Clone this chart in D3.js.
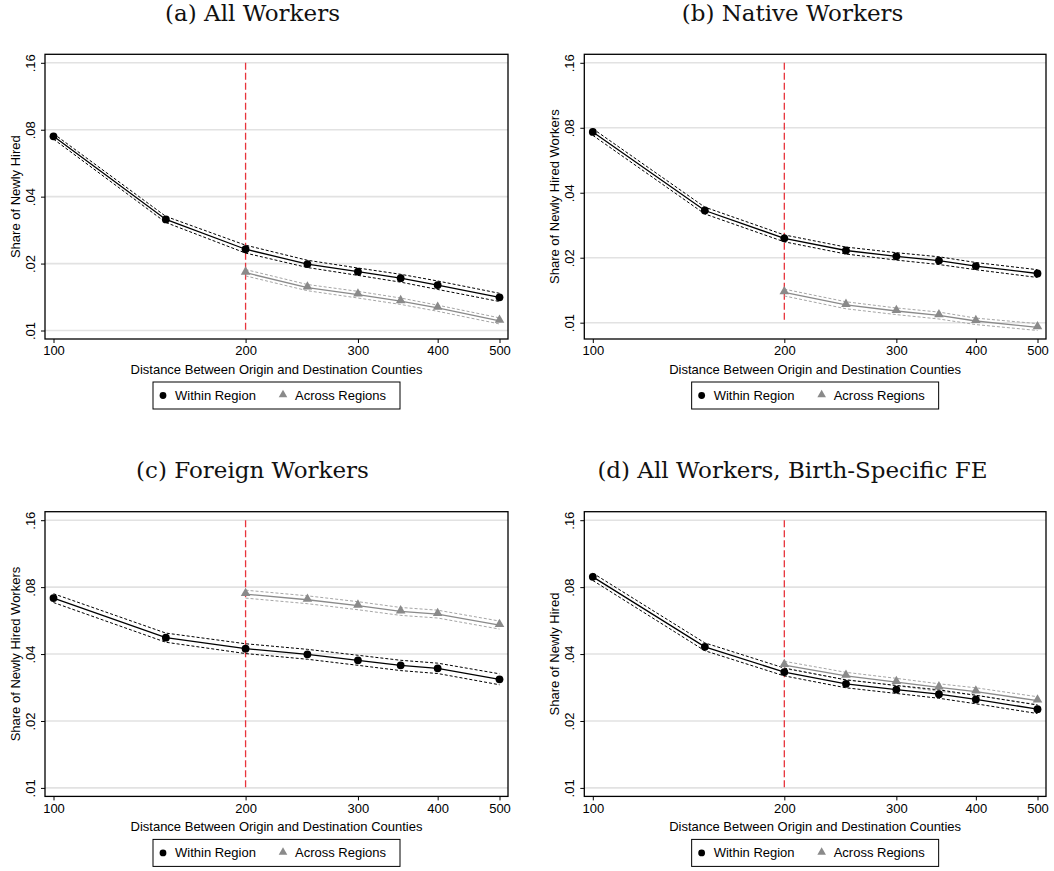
<!DOCTYPE html>
<html>
<head>
<meta charset="utf-8">
<script src="https://cdn.jsdelivr.net/npm/d3@7"></script>
<style>
  html, body { margin: 0; padding: 0; background: #fff; }
  svg { display: block; }
</style>
</head>
<body>
<svg id="chart" width="1054" height="871"></svg>
<script>
// ---------- data ----------
const distWithin = [100, 150, 200, 250, 300, 350, 400, 500];
const distAcross = [200, 250, 300, 350, 400, 500];
const xTicks = [100, 200, 300, 400, 500];
const yTicks = [0.01, 0.02, 0.04, 0.08, 0.16];
const yTickLabels = [".01", ".02", ".04", ".08", ".16"];
const cutoff = 200;

const panelTitles = ["(a) All Workers", "(b) Native Workers", "(c) Foreign Workers", "(d) All Workers, Birth-Specific FE"];
const yTitles = ["Share of Newly Hired", "Share of Newly Hired Workers", "Share of Newly Hired Workers", "Share of Newly Hired"];
const xTitle = "Distance Between Origin and Destination Counties";
const legendLabels = ["Within Region", "Across Regions"];

// (a) All workers
const aWithin   = [0.0747, 0.0316, 0.0232, 0.0199, 0.0184, 0.0172, 0.0160, 0.0141];
const aWithinLo = [0.0726, 0.0306, 0.0223, 0.0192, 0.0177, 0.0165, 0.0153, 0.0135];
const aWithinHi = [0.0768, 0.0326, 0.0242, 0.0207, 0.0191, 0.0179, 0.0167, 0.0147];
const aAcross   = [0.0182, 0.0156, 0.0145, 0.01355, 0.01264, 0.01105];
const aAcrossLo = [0.0176, 0.0151, 0.0140, 0.0131, 0.0122, 0.0107];
const aAcrossHi = [0.0188, 0.0161, 0.0150, 0.0140, 0.0130, 0.0114];
// (b) Native workers
const bWithin   = [0.0765, 0.0331, 0.0246, 0.0216, 0.0203, 0.0194, 0.0183, 0.0169];
const bWithinLo = [0.0738, 0.0319, 0.0237, 0.0208, 0.0195, 0.0186, 0.0176, 0.0162];
const bWithinHi = [0.0792, 0.0343, 0.0255, 0.0224, 0.0211, 0.0202, 0.0190, 0.0176];
const bAcross   = [0.01383, 0.01208, 0.01133, 0.01081, 0.01018, 0.00951];
const bAcrossLo = [0.0133, 0.0116, 0.0109, 0.0104, 0.0098, 0.0092];
const bAcrossHi = [0.0143, 0.0125, 0.0117, 0.0112, 0.0105, 0.0099];
// (c) Foreign workers
const cWithin   = [0.0714, 0.0474, 0.0423, 0.0399, 0.0375, 0.0356, 0.0345, 0.0308];
const cWithinLo = [0.0682, 0.0452, 0.0402, 0.0379, 0.0356, 0.0337, 0.0327, 0.0291];
const cWithinHi = [0.0747, 0.0497, 0.0445, 0.0420, 0.0395, 0.0375, 0.0364, 0.0326];
const cAcross   = [0.0744, 0.0702, 0.0660, 0.0622, 0.0605, 0.0540];
const cAcrossLo = [0.0714, 0.0674, 0.0633, 0.0597, 0.0581, 0.0518];
const cAcrossHi = [0.0775, 0.0731, 0.0688, 0.0648, 0.0630, 0.0563];
// (d) All workers, birth-specific FE
const dWithin   = [0.0890, 0.0431, 0.0332, 0.0294, 0.0277, 0.0264, 0.0250, 0.0226];
const dWithinLo = [0.0857, 0.0414, 0.0319, 0.0282, 0.0266, 0.0253, 0.0239, 0.0216];
const dWithinHi = [0.0925, 0.0449, 0.0346, 0.0306, 0.0289, 0.0276, 0.0261, 0.0236];
const dAcross   = [0.0357, 0.0319, 0.0299, 0.0283, 0.0271, 0.0247];
const dAcrossLo = [0.0344, 0.0307, 0.0288, 0.0272, 0.0261, 0.0237];
const dAcrossHi = [0.0371, 0.0331, 0.0311, 0.0294, 0.0282, 0.0257];

const panels = [
  {w: aWithin, wl: aWithinLo, wh: aWithinHi, a: aAcross, al: aAcrossLo, ah: aAcrossHi},
  {w: bWithin, wl: bWithinLo, wh: bWithinHi, a: bAcross, al: bAcrossLo, ah: bAcrossHi},
  {w: cWithin, wl: cWithinLo, wh: cWithinHi, a: cAcross, al: cAcrossLo, ah: cAcrossHi},
  {w: dWithin, wl: dWithinLo, wh: dWithinHi, a: dAcross, al: dAcrossLo, ah: dAcrossHi}
];

// ---------- layout ----------
const svg = d3.select("#chart");
const sans = "'Liberation Sans', Arial, Helvetica, sans-serif";
const serif = "'DejaVu Serif', 'Liberation Serif', serif";
const frameW = [463, 461.7];
const frameLeft = [45, 584.3];
const frameTop = [54.3, 511.7];
const frameH = 284.7;
const titleCX = [252.5, 792.5];
const pad = 8.5;

const BLACK = "#000";
const GRAY = "#8a8a8a";
const GRAYCI = "#a6a6a6";

panels.forEach((p, i) => {
  const col = i % 2, row = Math.floor(i / 2);
  const L = frameLeft[col], T = frameTop[row], W = frameW[col], H = frameH;
  const g = svg.append("g").attr("transform", `translate(${L},${T})`);

  // title
  svg.append("text")
    .attr("x", titleCX[col]).attr("y", frameTop[row] - 33.8)
    .attr("text-anchor", "middle")
    .attr("font-family", serif).attr("font-size", 23)
    .attr("fill", "#111")
    .text(panelTitles[i]);

  const x = d3.scaleLog().domain([100, 500]).range([pad, W - pad]);
  const dataMin = d3.min([...p.wl, ...p.al]);
  const dataMax = d3.max([...p.wh, ...p.ah]);
  const y = d3.scaleLog()
    .domain([Math.min(0.01, dataMin), Math.max(0.16, dataMax)])
    .range([H - pad, pad]);

  // gridlines
  g.append("g").selectAll("line").data(yTicks).join("line")
    .attr("x1", 0).attr("x2", W)
    .attr("y1", d => y(d)).attr("y2", d => y(d))
    .attr("stroke", "#e2e2e2").attr("stroke-width", 1.6);

  // cutoff line
  g.append("line")
    .attr("x1", x(cutoff)).attr("x2", x(cutoff))
    .attr("y1", y(0.16)).attr("y2", y(0.01))
    .attr("stroke", "#e8343c").attr("stroke-width", 1.3)
    .attr("stroke-dasharray", "7,3");

  const line = (xs, ys) => d3.line().x((d, k) => x(xs[k])).y(d => y(d))(ys);

  // across CI
  [p.al, p.ah].forEach(arr => {
    g.append("path").attr("d", line(distAcross, arr))
      .attr("fill", "none").attr("stroke", GRAYCI).attr("stroke-width", 1)
      .attr("stroke-dasharray", "3,2");
  });
  // within CI
  [p.wl, p.wh].forEach(arr => {
    g.append("path").attr("d", line(distWithin, arr))
      .attr("fill", "none").attr("stroke", BLACK).attr("stroke-width", 1)
      .attr("stroke-dasharray", "3,2");
  });
  // across line and markers
  g.append("path").attr("d", line(distAcross, p.a))
    .attr("fill", "none").attr("stroke", GRAY).attr("stroke-width", 1.3);
  const tri = d3.symbol().type(d3.symbolTriangle).size(40);
  g.append("g").selectAll("path").data(p.a).join("path")
    .attr("d", tri)
    .attr("transform", (d, k) => `translate(${x(distAcross[k])},${y(d) - 0.8})`)
    .attr("fill", GRAY);
  // within line and markers
  g.append("path").attr("d", line(distWithin, p.w))
    .attr("fill", "none").attr("stroke", BLACK).attr("stroke-width", 1.3);
  g.append("g").selectAll("circle").data(p.w).join("circle")
    .attr("cx", (d, k) => x(distWithin[k])).attr("cy", d => y(d))
    .attr("r", 3.9).attr("fill", BLACK);

  // axes
  const xAxis = d3.axisBottom(x).tickValues(xTicks).tickFormat(d3.format("d"))
    .tickSize(4).tickPadding(3);
  const gx = g.append("g").attr("transform", `translate(0,${H})`).call(xAxis);
  gx.select(".domain").remove();
  gx.selectAll("line").attr("stroke", BLACK).attr("stroke-width", 1);
  gx.selectAll("text").attr("font-family", sans).attr("font-size", 13).attr("fill", BLACK);

  const yAxis = d3.axisLeft(y).tickValues(yTicks).tickFormat((d, k) => yTickLabels[k])
    .tickSize(4);
  const gy = g.append("g").call(yAxis);
  gy.select(".domain").remove();
  gy.selectAll("line").attr("stroke", BLACK).attr("stroke-width", 1);
  gy.selectAll("text")
    .attr("x", 0).attr("dy", null)
    .attr("text-anchor", "middle")
    .attr("dominant-baseline", "central")
    .attr("transform", "translate(-15,0) rotate(-90)")
    .attr("font-family", sans).attr("font-size", 13).attr("fill", BLACK);

  // frame
  g.append("rect").attr("x", 0).attr("y", 0).attr("width", W).attr("height", H)
    .attr("fill", "none").attr("stroke", BLACK).attr("stroke-width", 1.3);

  // axis titles
  g.append("text")
    .attr("x", W / 2).attr("y", H + 35)
    .attr("text-anchor", "middle")
    .attr("font-family", sans).attr("font-size", 13).attr("fill", BLACK)
    .text(xTitle);
  g.append("text")
    .attr("transform", `translate(-30,${H / 2}) rotate(-90)`)
    .attr("text-anchor", "middle").attr("dominant-baseline", "central")
    .attr("font-family", sans).attr("font-size", 13).attr("fill", BLACK)
    .text(yTitles[i]);

  // legend
  const lg = g.append("g").attr("transform", `translate(${W / 2 - 123.5},${H + 43})`);
  lg.append("rect").attr("x", 0).attr("y", 0).attr("width", 247).attr("height", 27)
    .attr("fill", "#fff").attr("stroke", BLACK).attr("stroke-width", 1);
  lg.append("circle").attr("cx", 10).attr("cy", 13.5).attr("r", 3.4).attr("fill", BLACK);
  lg.append("text").attr("x", 22).attr("y", 13.5).attr("dominant-baseline", "central")
    .attr("font-family", sans).attr("font-size", 13).attr("fill", BLACK)
    .text(legendLabels[0]);
  lg.append("path").attr("d", d3.symbol().type(d3.symbolTriangle).size(32))
    .attr("transform", "translate(130,12.8)").attr("fill", GRAY);
  lg.append("text").attr("x", 142).attr("y", 13.5).attr("dominant-baseline", "central")
    .attr("font-family", sans).attr("font-size", 13).attr("fill", BLACK)
    .text(legendLabels[1]);
});
</script>
</body>
</html>
